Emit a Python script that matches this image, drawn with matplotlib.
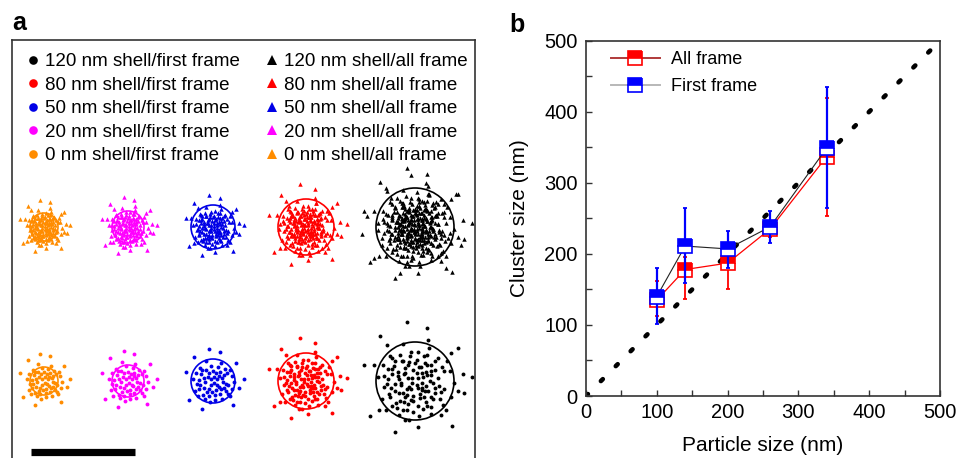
import numpy as np
import matplotlib
matplotlib.use('Agg')
import matplotlib.pyplot as plt
from matplotlib.lines import Line2D
from matplotlib.patches import Circle

plt.rcParams['font.family'] = ['Liberation Sans', 'DejaVu Sans']

# ---------------- Panel b data ----------------
particle_size = [100, 140, 200, 260, 340]
all_frame_center = [135, 178, 187, 235, 337]
all_frame_upper = [162, 196, 206, 246, 420]
all_frame_lower = [112, 136, 150, 224, 253]
first_frame_center = [140, 211, 207, 238, 349]
first_frame_upper = [180, 265, 232, 260, 435]
first_frame_lower = [101, 159, 180, 215, 264]
reference_line = [0, 490]
x_ticks = [0, 100, 200, 300, 400, 500]
y_ticks = [0, 100, 200, 300, 400, 500]

# ---------------- Panel a data ----------------
shell_labels = ['120 nm', '80 nm', '50 nm', '20 nm', '0 nm']
shell_colors = ['black', '#ff0000', '#0000e6', '#ff00ff', '#ff8c00']
circle_radius_px = [39, 28, 22, 16, 14]
spread_factor = [1.05, 1.05, 1.0, 1.3, 1.35]
cluster_x_px = [415, 306, 213, 128, 44]
top_row_y_px = 227
bottom_row_y_px = 381
copies_all_frame = [5, 3, 2, 2, 2]
copies_first_frame = [2, 2, 1, 1, 1]

# hand-read normalised point offsets (units of circle radius)
pattern_x = [0.05, -0.20, 0.40, -0.55, 0.30, -0.10, 0.70, -0.75, 0.15, -0.35,
             0.55, -0.45, 0.10, 0.85, -0.90, 0.25, -0.25, 0.60, -0.60, 0.00,
             0.45, -0.05, 0.35, -0.80, 0.75, -0.30, 0.95, -0.15, 0.20, -0.40,
             0.50, -0.65, 0.05, -0.10, 0.30, -0.50, 0.65, -0.20, 0.40, -0.70,
             1.20, -1.25, 0.30, -0.50, 1.05, -1.10, 0.90, -0.85, 1.40, -0.20,
             0.12, -0.32, 0.58, -0.62, 0.22, -0.08, 0.38, -0.42, 0.08, 0.78,
             -0.28, 0.48, -0.78, 0.18, -0.18, 0.68, -0.58, 0.28, -0.38, 0.88]
pattern_y = [0.10, 0.35, -0.15, -0.30, 0.60, -0.70, 0.20, 0.15, -0.35, 0.05,
             -0.55, 0.65, 0.85, -0.25, -0.10, 0.25, -0.20, 0.45, -0.60, -0.45,
             0.05, 0.50, -0.80, 0.45, 0.70, -0.90, 0.05, 0.95, -0.10, 0.30,
             0.30, -0.05, -0.20, 0.20, -0.40, -0.50, -0.35, 0.70, 0.80, 0.70,
             0.30, -0.40, -1.30, 1.25, -0.80, 0.85, 1.10, -1.10, -0.10, -1.45,
             0.42, -0.48, 0.12, 0.38, -0.62, -0.08, 0.38, -0.12, 0.62, -0.48,
             0.52, -0.28, -0.38, 0.18, -0.38, 0.58, 0.18, -0.22, 0.82, 0.38]
copy_angles_deg = [0, 90, 180, 270, 45]
copy_scales = [1.0, 0.8, 0.65, 0.9, 0.5]

W, H = 959, 458
fig = plt.figure(figsize=(W / 100, H / 100), dpi=100)

# ================= Panel a =================
axa = fig.add_axes([12 / W, -20 / H, 463 / W, 438 / H])
axa.set_xlim(12, 475)
axa.set_ylim(478, 40)
axa.set_xticks([])
axa.set_yticks([])
for s in axa.spines.values():
    s.set_linewidth(1.2)
    s.set_color('#333333')

px = np.array(pattern_x)
py = np.array(pattern_y)


def cluster_points(cx, cy, spread, ncopies):
    xs, ys = [], []
    for k in range(ncopies):
        a = np.deg2rad(copy_angles_deg[k])
        sc = copy_scales[k] * spread
        xs.append(cx + sc * (px * np.cos(a) - py * np.sin(a)))
        ys.append(cy + sc * (px * np.sin(a) + py * np.cos(a)))
    return np.concatenate(xs), np.concatenate(ys)


for i in range(5):
    col = shell_colors[i]
    r = circle_radius_px[i]
    sp = r * spread_factor[i]
    cx = cluster_x_px[i]
    # top row: all frame (triangles)
    x, y = cluster_points(cx, top_row_y_px, sp, copies_all_frame[i])
    axa.plot(x, y, linestyle='none', marker='^', ms=3.2, color=col, mew=0)
    axa.add_patch(Circle((cx, top_row_y_px), r, fill=False, ec=col, lw=1.2, zorder=3))
    # bottom row: first frame (dots)
    x, y = cluster_points(cx, bottom_row_y_px, sp, copies_first_frame[i])
    axa.plot(x, y, linestyle='none', marker='o', ms=2.8, color=col, mew=0)
    axa.add_patch(Circle((cx, bottom_row_y_px), r, fill=False, ec=col, lw=1.2, zorder=3))

# scale bar
axa.plot([31, 135], [452, 452], color='black', lw=5.2, solid_capstyle='butt')

handles = []
labels = []
for i in range(5):
    handles.append(Line2D([], [], linestyle='none', marker='o', ms=6.2, color=shell_colors[i], mew=0))
    labels.append(f'{shell_labels[i]} shell/first frame')
for i in range(5):
    handles.append(Line2D([], [], linestyle='none', marker='^', ms=6.8, color=shell_colors[i], mew=0))
    labels.append(f'{shell_labels[i]} shell/all frame')
fig.legend(handles, labels, ncol=2, loc='upper left',
           bbox_to_anchor=(28 / W, 1 - 53 / H), bbox_transform=fig.transFigure,
           frameon=False, fontsize=13.5, handlelength=0.5, handletextpad=0.39,
           columnspacing=1.46, labelspacing=0.34, borderpad=0, borderaxespad=0)

# ================= Panel b =================
axb = fig.add_axes([586 / W, 1 - 396 / H, 354 / W, 355.3 / H])
axb.plot(reference_line, reference_line, color='black', lw=3.3,
         linestyle=(0, (0.6, 4.0)), dash_capstyle='round', zorder=1)

red = '#ff0000'
blue = '#0000ff'
ac = np.array(all_frame_center)
fc = np.array(first_frame_center)
axb.errorbar(particle_size, ac, yerr=[ac - np.array(all_frame_lower), np.array(all_frame_upper) - ac],
             fmt='none', ecolor=red, elinewidth=1.3, capsize=1.5, capthick=1.3, zorder=2)
axb.plot(particle_size, ac, color=red, lw=0.9, zorder=3)
axb.plot(particle_size, ac, linestyle='none', marker='s', ms=10, fillstyle='top',
         markerfacecolor=red, markerfacecoloralt='white', markeredgecolor=red, mew=1.2, zorder=4)

axb.errorbar(particle_size, fc, yerr=[fc - np.array(first_frame_lower), np.array(first_frame_upper) - fc],
             fmt='none', ecolor=blue, elinewidth=1.6, capsize=1.5, capthick=1.3, zorder=5)
axb.plot(particle_size, fc, color='#222222', lw=0.8, zorder=5)
axb.plot(particle_size, fc, linestyle='none', marker='s', ms=10, fillstyle='top',
         markerfacecolor=blue, markerfacecoloralt='white', markeredgecolor=blue, mew=1.2, zorder=6)

axb.set_xlim(0, 500)
axb.set_ylim(0, 500)
axb.set_xticks(x_ticks)
axb.set_yticks(y_ticks)
axb.set_xticks([50, 150, 250, 350, 450], minor=True)
axb.set_yticks([50, 150, 250, 350, 450], minor=True)
axb.tick_params(which='both', direction='in', length=4.5, width=1, color='#333333',
                top=False, right=False, labelsize=14.5)
axb.tick_params(axis='x', pad=5)
axb.tick_params(axis='y', pad=6)
for s in axb.spines.values():
    s.set_linewidth(1.2)
    s.set_color('#333333')
axb.set_xlabel('Particle size (nm)', fontsize=15, labelpad=10)
axb.set_ylabel('Cluster size (nm)', fontsize=15, labelpad=11)

hb = [Line2D([], [], color='#b03a3a', lw=1.4, marker='s', ms=10, fillstyle='top',
             markerfacecolor=red, markerfacecoloralt='white', markeredgecolor=red, mew=1.2),
      Line2D([], [], color='#b8b8b8', lw=1.4, marker='s', ms=10, fillstyle='top',
             markerfacecolor=blue, markerfacecoloralt='white', markeredgecolor=blue, mew=1.2)]
axb.legend(hb, ['All frame', 'First frame'], loc='upper left',
           bbox_to_anchor=(611 / W, 1 - 51 / H), bbox_transform=fig.transFigure,
           frameon=False, fontsize=13, handlelength=2.7, handletextpad=0.6,
           labelspacing=0.55, borderpad=0, borderaxespad=0)

fig.text(12 / W, 1 - 30 / H, 'a', fontsize=18, fontweight='bold', va='baseline')
fig.text(509 / W, 1 - 32 / H, 'b', fontsize=18, fontweight='bold', va='baseline')

fig.savefig('out.png', dpi=100)
